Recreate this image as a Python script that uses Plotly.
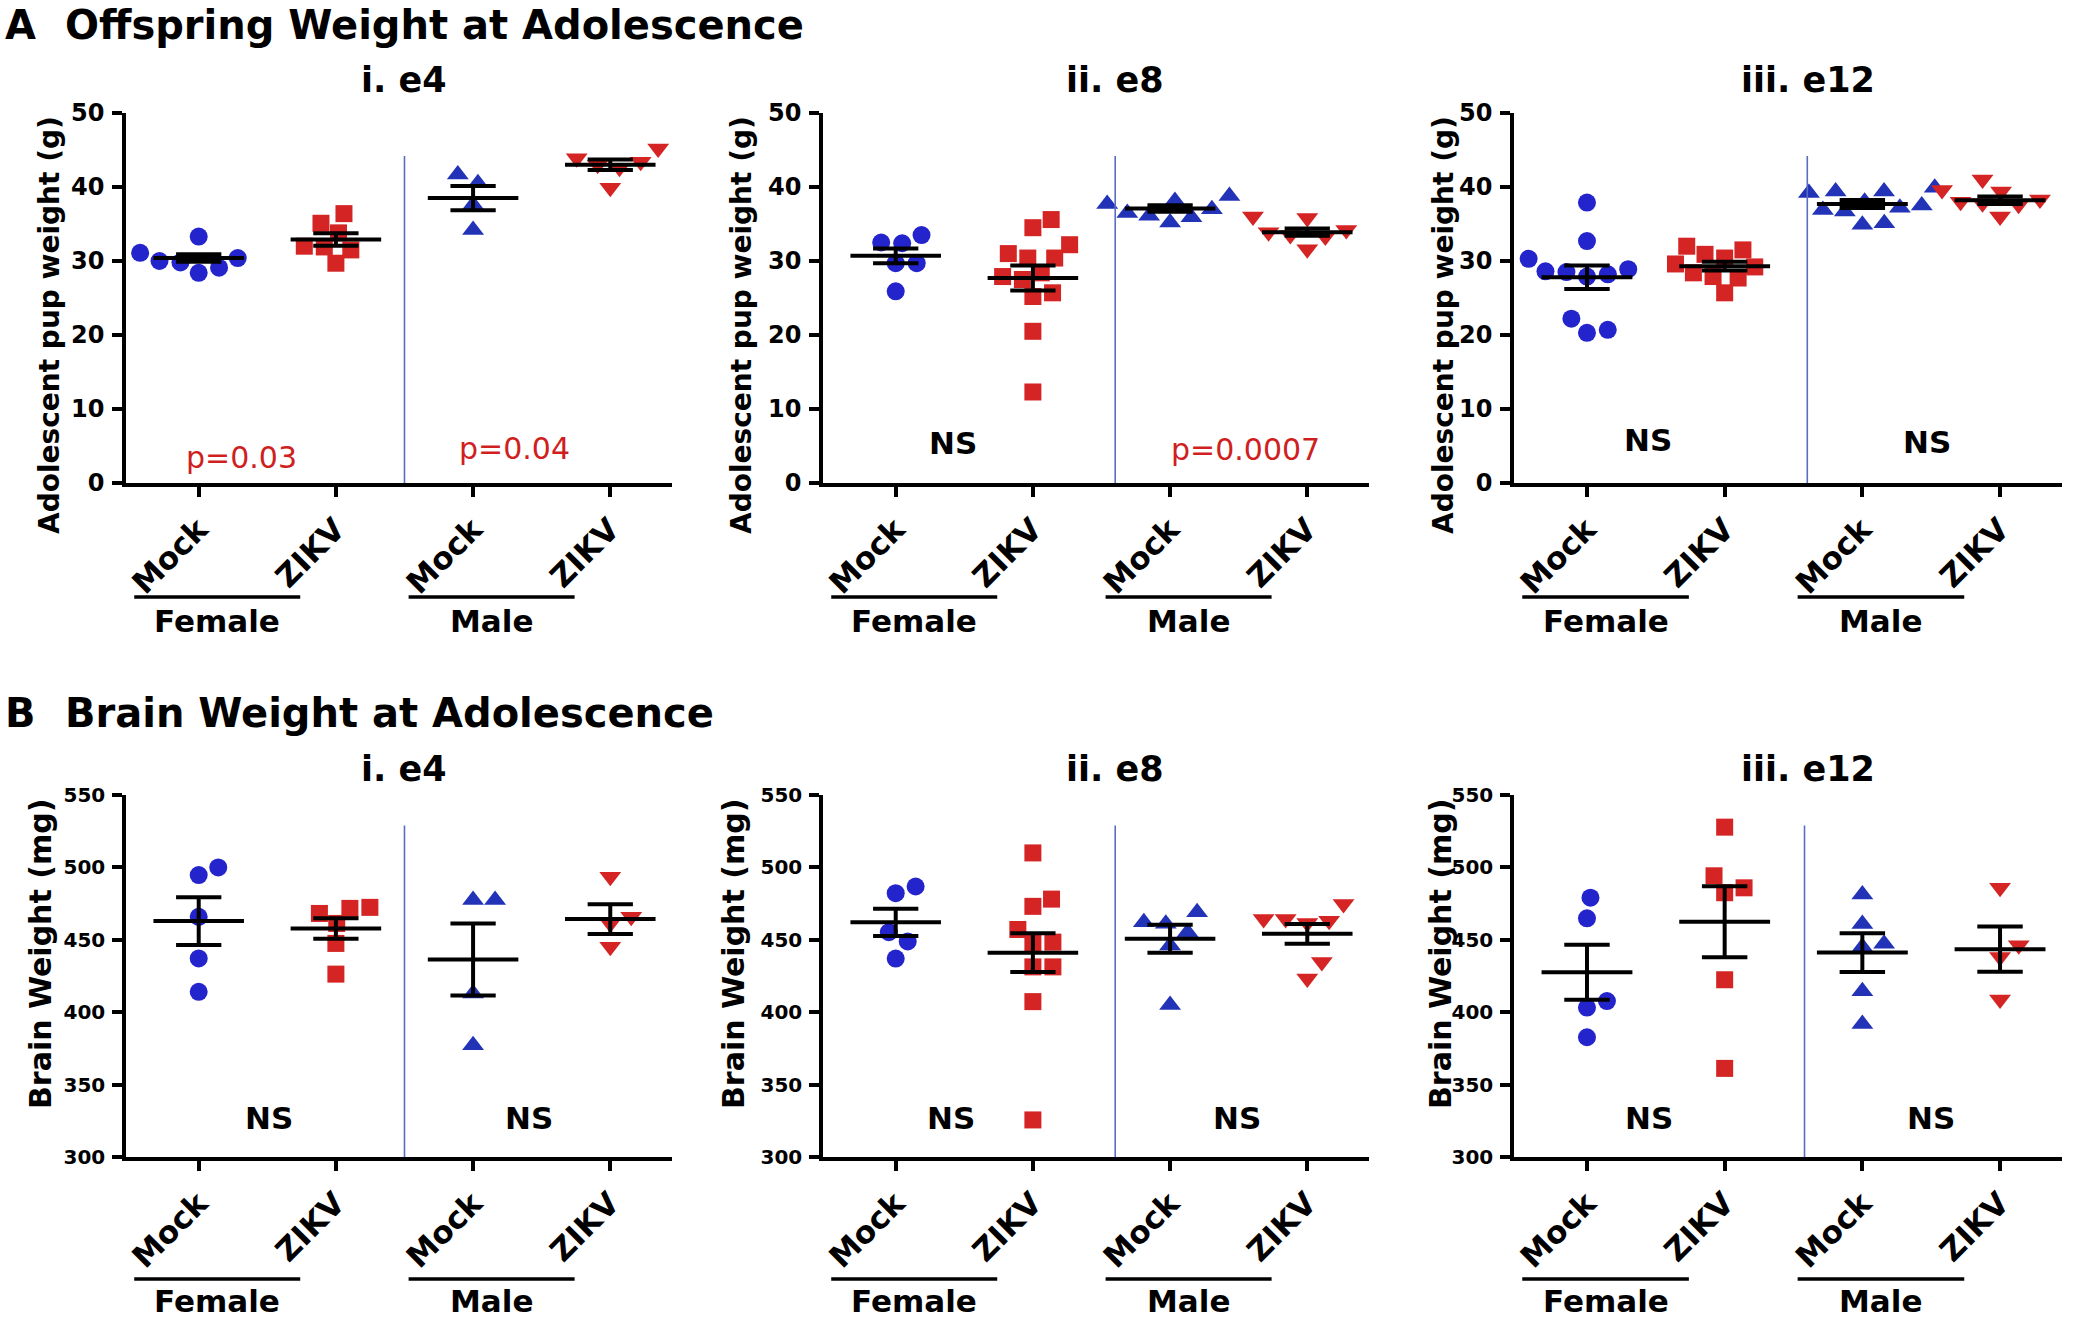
import plotly.graph_objects as go

W, H = 2084, 1318
FONT = "DejaVu Sans"

# ---------------- data ----------------
cats = ["Mock", "ZIKV", "Mock", "ZIKV"]
sexes = ["Female", "Male"]
titles_A = ["i. e4", "ii. e8", "iii. e12"]
titles_B = ["i. e4", "ii. e8", "iii. e12"]
yticks_A = [0, 10, 20, 30, 40, 50]
yticks_B = [300, 350, 400, 450, 500, 550]

# A: offspring weight (g)
A_e4_mock_f = [30.4, 29.8, 28.4, 33.3, 29.1, 30.0, 31.1]
A_e4_zikv_f = [35.1, 36.4, 33.8, 32.0, 31.5, 31.9, 29.7]
A_e4_mock_m = [41.7, 40.5, 37.6, 34.2]
A_e4_zikv_m = [45.2, 43.4, 43.0, 42.6, 43.9, 39.9]
A_e4_mean = [30.4, 32.9, 38.5, 43.0]
A_e4_sem = [0.5, 0.85, 1.65, 0.7]
A_e4_stats = ["p=0.03", "p=0.04"]

A_e8_mock_f = [32.5, 33.5, 32.4, 29.7, 29.7, 25.9]
A_e8_zikv_f = [32.2, 34.5, 35.6, 30.4, 30.4, 31.0, 28.4, 27.9, 25.2, 25.7, 20.5, 12.3, 27.5]
A_e8_mock_m = [37.7, 38.8, 38.1, 36.1, 35.2, 35.9, 36.5, 37.0]
A_e8_zikv_m = [33.9, 36.0, 35.8, 31.6, 33.3, 33.5, 34.2]
A_e8_mean = [30.7, 27.7, 37.1, 33.9]
A_e8_sem = [1.0, 1.7, 0.45, 0.5]
A_e8_stats = ["NS", "p=0.0007"]

A_e12_mock_f = [37.9, 32.7, 30.3, 28.9, 28.6, 27.9, 28.2, 22.2, 20.3, 20.7, 28.5]
A_e12_zikv_f = [32.0, 30.9, 31.5, 30.4, 27.9, 27.7, 28.4, 25.7, 29.6, 29.2]
A_e12_mock_m = [39.9, 39.4, 39.2, 39.4, 37.2, 36.7, 36.9, 34.9, 35.1, 38.0, 37.5]
A_e12_zikv_m = [41.0, 39.6, 39.4, 37.8, 37.6, 36.0, 38.3, 38.0]
A_e12_mean = [27.8, 29.3, 37.7, 38.2]
A_e12_sem = [1.6, 0.6, 0.55, 0.5]
A_e12_stats = ["NS", "NS"]

# B: brain weight (mg)
B_e4_mock_f = [500.0, 494.7, 465.9, 437.1, 414.1]
B_e4_zikv_f = [472.4, 471.7, 468.2, 461.3, 447.5, 426.3]
B_e4_mock_m = [477.4, 477.4, 412.9, 377.2]
B_e4_zikv_m = [493.5, 465.9, 461.3, 445.2]
B_e4_mean = [462.9, 457.8, 436.4, 464.3]
B_e4_sem = [16.5, 7.0, 24.8, 10.3]
B_e4_stats = ["NS", "NS"]

B_e8_mock_f = [482.2, 486.8, 455.3, 448.9, 437.0]
B_e8_zikv_f = [510.0, 478.1, 473.1, 457.1, 448.4, 448.0, 431.3, 431.3, 407.3, 325.6]
B_e8_mock_m = [462.1, 469.0, 461.0, 455.3, 446.1, 405.0]
B_e8_zikv_m = [464.4, 463.2, 461.6, 464.4, 474.7, 434.7, 423.3]
B_e8_mean = [462.1, 441.1, 450.7, 454.1]
B_e8_sem = [9.4, 13.4, 9.7, 6.8]
B_e8_stats = ["NS", "NS"]

B_e12_mock_f = [479.1, 464.8, 407.7, 403.2, 382.7]
B_e12_zikv_f = [527.8, 494.2, 485.9, 482.5, 422.4, 361.2]
B_e12_mock_m = [481.3, 460.9, 447.3, 445.1, 414.5, 391.8]
B_e12_zikv_m = [485.9, 446.2, 438.2, 408.8]
B_e12_mean = [427.6, 462.5, 441.2, 443.5]
B_e12_sem = [19.0, 24.5, 13.4, 15.6]
B_e12_stats = ["NS", "NS"]

# ---------------- layout geometry / styles ----------------
col_px = [(126, 672), (823, 1369), (1514, 2062)]
row_px = [(113, 483), (795, 1157)]
XR = [-0.53, 3.45]
BLUE = "#2424cc"
BLUE2 = "#2233b8"
RED = "#d42424"
PRED = "#cf1f1f"
DIV = "#5b6dc0"
styles = [("circle", BLUE, 18), ("square", RED, 17),
          ("triangle-up", BLUE2, 19), ("triangle-down", RED, 19)]

panels = [
    dict(row=0, col=0, groups=[A_e4_mock_f, A_e4_zikv_f, A_e4_mock_m, A_e4_zikv_m],
         mean=A_e4_mean, sem=A_e4_sem, stats=A_e4_stats,
         spos=[(0.31, 3.5), (2.3, 4.7)], div=1.5),
    dict(row=0, col=1, groups=[A_e8_mock_f, A_e8_zikv_f, A_e8_mock_m, A_e8_zikv_m],
         mean=A_e8_mean, sem=A_e8_sem, stats=A_e8_stats,
         spos=[(0.42, 5.4), (2.55, 4.5)], div=1.6),
    dict(row=0, col=2, groups=[A_e12_mock_f, A_e12_zikv_f, A_e12_mock_m, A_e12_zikv_m],
         mean=A_e12_mean, sem=A_e12_sem, stats=A_e12_stats,
         spos=[(0.44, 5.8), (2.47, 5.5)], div=1.6),
    dict(row=1, col=0, groups=[B_e4_mock_f, B_e4_zikv_f, B_e4_mock_m, B_e4_zikv_m],
         mean=B_e4_mean, sem=B_e4_sem, stats=B_e4_stats,
         spos=[(0.51, 327), (2.41, 327)], div=1.5),
    dict(row=1, col=1, groups=[B_e8_mock_f, B_e8_zikv_f, B_e8_mock_m, B_e8_zikv_m],
         mean=B_e8_mean, sem=B_e8_sem, stats=B_e8_stats,
         spos=[(0.40, 327), (2.49, 327)], div=1.6),
    dict(row=1, col=2, groups=[B_e12_mock_f, B_e12_zikv_f, B_e12_mock_m, B_e12_zikv_m],
         mean=B_e12_mean, sem=B_e12_sem, stats=B_e12_stats,
         spos=[(0.45, 327), (2.5, 327)], div=1.58),
]


def swarm(vals, py_per_unit, px_per_cat, d):
    """simple beeswarm: horizontal offsets (category units) so markers don't overlap"""
    ys = [v * py_per_unit for v in vals]
    placed = []
    xs = [0.0] * len(vals)
    for i in sorted(range(len(vals)), key=lambda k: ys[k]):
        y = ys[i]
        cands = [0.0]
        for (px, py) in placed:
            dy = abs(py - y)
            if dy < d:
                dx = (d * d - dy * dy) ** 0.5
                cands += [px + dx, px - dx]
        cands.sort(key=abs)
        for c in cands:
            if all((c - px) ** 2 + (y - py) ** 2 >= d * d - 1e-6 for px, py in placed):
                xs[i] = c
                placed.append((c, y))
                break
    return [x / px_per_cat for x in xs]


fig = go.Figure()
layout = dict(width=W, height=H, margin=dict(l=0, r=0, t=0, b=0, autoexpand=False),
              paper_bgcolor="white", plot_bgcolor="white", showlegend=False,
              font=dict(family=FONT, color="black"))
annotations = []
shapes = []


def P(xpx, ypx):
    return xpx / W, 1 - ypx / H


def ann(**kw):
    kw.setdefault("showarrow", False)
    kw.setdefault("xanchor", "center")
    kw.setdefault("yanchor", "middle")
    annotations.append(kw)


for k, p in enumerate(panels):
    n = k + 1
    xa = "x" if n == 1 else f"x{n}"
    ya = "y" if n == 1 else f"y{n}"
    xkey = "xaxis" if n == 1 else f"xaxis{n}"
    ykey = "yaxis" if n == 1 else f"yaxis{n}"
    row, col = p["row"], p["col"]
    x0, x1 = col_px[col]
    ytop, ybot = row_px[row]
    yt = yticks_A if row == 0 else yticks_B
    yr = [yt[0], yt[-1]]
    py_per_unit = (ybot - ytop) / (yr[1] - yr[0])
    px_per_cat = (x1 - x0) / (XR[1] - XR[0])

    layout[xkey] = dict(domain=[x0 / W, x1 / W], range=XR, anchor=ya,
                        tickvals=[0, 1, 2, 3], ticktext=cats, tickangle=-45,
                        tickfont=dict(family=FONT, size=31, weight="bold", color="black"),
                        showline=True, linewidth=3.5, linecolor="black",
                        ticks="outside", ticklen=10, tickwidth=3.5, tickcolor="black",
                        showgrid=False, zeroline=False, ticklabelstandoff=2,
                        automargin=False)
    layout[ykey] = dict(domain=[1 - ybot / H, 1 - ytop / H], range=yr, anchor=xa,
                        tickvals=yt, ticktext=[str(v) for v in yt],
                        tickfont=dict(family=FONT, size=24 if row == 0 else 20,
                                      weight="bold", color="black"),
                        showline=True, linewidth=3.5, linecolor="black",
                        ticks="outside", ticklen=10, tickwidth=3.5, tickcolor="black",
                        showgrid=False, zeroline=False, ticklabelstandoff=3,
                        automargin=False)

    # points
    for g, vals in enumerate(p["groups"]):
        sym, colr, sz = styles[g]
        offs = swarm(vals, py_per_unit, px_per_cat, sz + 3)
        fig.add_trace(go.Scatter(x=[g + o for o in offs], y=vals, mode="markers",
                                 marker=dict(symbol=sym, color=colr, size=sz, line=dict(width=0)),
                                 xaxis=xa, yaxis=ya, cliponaxis=False, hoverinfo="skip"))
    # mean +/- SEM
    lx, ly = [], []
    for g, (m, s) in enumerate(zip(p["mean"], p["sem"])):
        lx += [g - 0.33, g + 0.33, None, g, g, None,
               g - 0.165, g + 0.165, None, g - 0.165, g + 0.165, None]
        ly += [m, m, None, m - s, m + s, None,
               m + s, m + s, None, m - s, m - s, None]
    fig.add_trace(go.Scatter(x=lx, y=ly, mode="lines", line=dict(color="black", width=4),
                             xaxis=xa, yaxis=ya, hoverinfo="skip"))

    # divider
    dtop = 44.2 if row == 0 else 529
    shapes.append(dict(type="line", xref=xa, yref=ya, x0=p["div"], x1=p["div"],
                       y0=yr[0], y1=dtop, line=dict(color=DIV, width=1.6)))

    # stats text
    for txt, (sx, sy) in zip(p["stats"], p["spos"]):
        ns = txt == "NS"
        ann(text=txt, xref=xa, yref=ya, x=sx, y=sy,
            font=dict(family=FONT, size=31 if ns else 30,
                      weight="bold" if ns else "normal", color="black" if ns else PRED))

    # Female / Male group lines
    line_y = 597 if row == 0 else 1279
    lab_y = 621 if row == 0 else 1301
    for j, sx in enumerate(sexes):
        base = 2 * j
        shapes.append(dict(type="line", xref=xa, yref="paper", x0=base - 0.47, x1=base + 0.74,
                           y0=1 - line_y / H, y1=1 - line_y / H,
                           line=dict(color="black", width=3.5)))
        ann(text=sx, xref=xa, yref="paper", x=base + 0.135, y=1 - lab_y / H,
            font=dict(family=FONT, size=31, weight="bold", color="black"))

# panel (sub)titles
sub_x = [404, 1115, 1808]
for c in range(3):
    for ttl, yy in ((titles_A[c], 80), (titles_B[c], 769)):
        x, y = P(sub_x[c], yy)
        ann(text=ttl, xref="paper", yref="paper", x=x, y=y,
            font=dict(family=FONT, size=35, weight="bold"))

# y-axis titles
yt_A_x = [49, 741, 1443]
yt_B_x = [40, 733, 1440]
for c in range(3):
    x, y = P(yt_A_x[c], 325)
    ann(text="Adolescent pup weight (g)", xref="paper", yref="paper",
        x=x, y=y, textangle=-90, font=dict(family=FONT, size=28, weight="bold"))
    x, y = P(yt_B_x[c], 954)
    ann(text="Brain Weight (mg)", xref="paper", yref="paper",
        x=x, y=y, textangle=-90, font=dict(family=FONT, size=30, weight="bold"))

# section headings
for letter, text, yy in (("A", "Offspring Weight at Adolescence", 25),
                         ("B", "Brain Weight at Adolescence", 713)):
    x, y = P(3, yy)
    ann(text=letter, xref="paper", yref="paper", x=x, y=y, xanchor="left",
        font=dict(family=FONT, size=40, weight="bold"))
    x, y = P(63, yy)
    ann(text=text, xref="paper", yref="paper", x=x, y=y, xanchor="left",
        font=dict(family=FONT, size=40, weight="bold"))

layout["annotations"] = annotations
layout["shapes"] = shapes
fig.update_layout(**layout)
fig.write_html("out.html", config={"displayModeBar": False},
               post_script="document.body.style.margin='0';document.body.style.overflow='hidden';")
